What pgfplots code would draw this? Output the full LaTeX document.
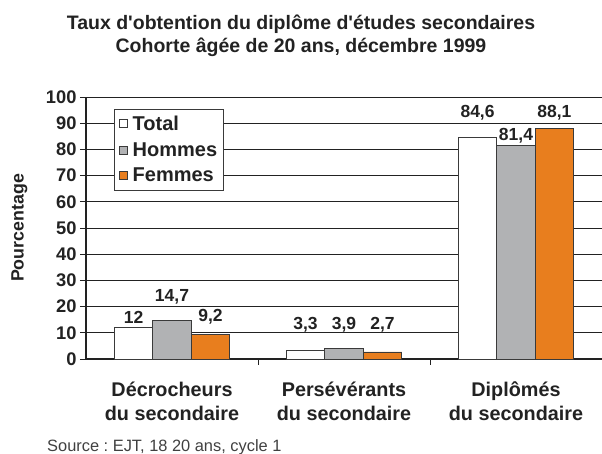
\documentclass[border=0pt]{standalone}
\usepackage{pgfplots}
\pgfplotsset{compat=1.18}
\usepackage{fontspec}
\setmainfont{Liberation Sans}
\frenchspacing
\definecolor{hom}{HTML}{B1B2B4}
\definecolor{fem}{HTML}{E87E1E}
\definecolor{edge}{HTML}{3A3A3A}
\definecolor{txt}{HTML}{222222}
\pgfplotsset{sq legend/.style={legend image code/.code={\draw[##1,line width=0.8pt] (2pt,-4pt) rectangle (10pt,4pt);}}}
\begin{document}
\begin{tikzpicture}[x=1pt,y=1pt]
\useasboundingbox (-86,-95) rectangle (516,359);
\begin{axis}[
  at={(0,0)}, anchor=south west,
  scale only axis, width=516pt, height=262pt,
  xmin=-0.5, xmax=2.5, ymin=0, ymax=100,
  ybar=0pt, bar width=38.5pt,
  axis x line*=bottom, axis y line*=left,
  axis line style={line width=1.1pt, color=txt},
  ytick={0,10,...,100},
  ymajorgrids, grid style={line width=0.8pt, color=txt},
  xtick={0,1,2},
  xticklabels={{Décrocheurs\\du secondaire},{Persévérants\\du secondaire},{Diplômés\\du secondaire}},
  xticklabel style={align=center, font=\bfseries\fontsize{19.8}{24.5}\selectfont, text=txt, yshift=-13pt},
  x tick style={draw=none},
  extra x ticks={0.5,1.5},
  extra x tick labels={},
  extra x tick style={x tick style={draw=txt, line width=0.8pt}, major tick length=6pt, tick align=outside, grid=none},
  y tick style={draw=txt, line width=0.8pt},
  major tick length=6pt, tick align=outside,
  yticklabel style={font=\bfseries\fontsize{18.3}{20}\selectfont, text=txt},
  /pgf/number format/assume math mode=true,
  ylabel={Pourcentage},
  ylabel style={at={(axis description cs:-0.129,0.5)}, anchor=center, rotate=0, font=\bfseries\fontsize{17.8}{20}\selectfont, text=txt},
  legend style={at={(axis description cs:0.0543,0.9542)}, anchor=north west, draw=edge, line width=0.8pt, fill=white,
    font=\bfseries\fontsize{20}{22}\selectfont, text=txt, inner sep=4.5pt, row sep=6.5pt,
    /tikz/every odd column/.append style={column sep=3pt}},
  legend cell align=left,
  clip=false,
]
\addplot[fill=white, draw=edge, line width=0.8pt, sq legend] coordinates {(0,12) (1,3.3) (2,84.6)};
\addplot[fill=hom, draw=edge, line width=0.8pt, sq legend] coordinates {(0,14.7) (1,3.9) (2,81.4)};
\addplot[fill=fem, draw=edge, line width=0.8pt, sq legend] coordinates {(0,9.2) (1,2.7) (2,88.1)};
\legend{Total,Hommes,Femmes}
\begin{scope}[every node/.style={font=\bfseries\fontsize{17.5}{19}\selectfont, text=txt}]
\node at (axis cs:-0.2235,16.0) {12};
\node at (axis cs:0,23.7) {14,7};
\node at (axis cs:0.2235,16.0) {9,2};
\node at (axis cs:0.7765,13.0) {3,3};
\node at (axis cs:1,13.0) {3,9};
\node at (axis cs:1.2235,13.0) {2,7};
\node at (axis cs:1.7765,93.9) {84,6};
\node at (axis cs:2,85.1) {81,4};
\node at (axis cs:2.2235,93.9) {88,1};
\end{scope}
\end{axis}
\node[anchor=base, font=\bfseries\fontsize{19.5}{22}\selectfont, text=txt] at (215,329) {Taux d\textquotesingle obtention du diplôme d\textquotesingle études secondaires};
\node[anchor=base, font=\bfseries\fontsize{19.5}{22}\selectfont, text=txt] at (215,306) {Cohorte âgée de 20 ans, décembre 1999};
\node[anchor=base west, inner sep=0pt, font=\fontsize{16.4}{18}\selectfont, text=black!75] at (-39,-92.5) {Source : EJT, 18 20 ans, cycle 1};
\end{tikzpicture}
\end{document}
